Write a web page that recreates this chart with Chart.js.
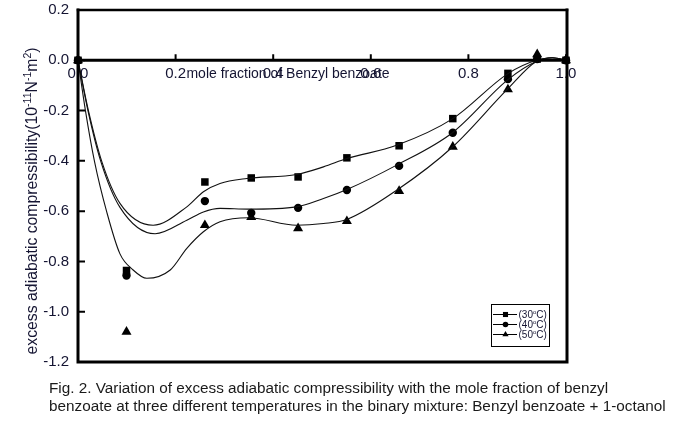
<!DOCTYPE html>
<html><head><meta charset="utf-8">
<script src="https://cdn.jsdelivr.net/npm/chart.js@4/dist/chart.umd.min.js"></script>
<style>
html,body{margin:0;padding:0;background:#fff;}
#wrap{position:relative;width:689px;height:430px;overflow:hidden;}
#c{position:absolute;left:0;top:0;}
#cap{position:absolute;left:49px;top:379px;font:15.3px "Liberation Sans",Arial,sans-serif;color:#1a1a1a;line-height:18px;white-space:nowrap;}
</style></head><body>
<div id="wrap"><canvas id="c" width="689" height="430"></canvas>
<div id="cap">Fig. 2. Variation of excess adiabatic compressibility with the mole fraction of benzyl<br>benzoate at three different temperatures in the binary mixture: Benzyl benzoate + 1-octanol</div></div>
<script>
// measured points (mole fraction of benzyl benzoate)
const moleFraction = [0, 0.0994, 0.260, 0.355, 0.451, 0.551, 0.658, 0.768, 0.881, 0.941, 1.0];
const kappa30 = [0, -0.836, -0.484, -0.468, -0.464, -0.388, -0.340, -0.232, -0.052, 0.005, 0];
const kappa40 = [0, -0.856, -0.560, -0.607, -0.587, -0.516, -0.420, -0.288, -0.075, 0.005, 0];
const kappa50 = [0, -1.080, -0.656, -0.624, -0.668, -0.640, -0.520, -0.344, -0.116, 0.024, 0];

// fitted curves
const fit30X = [0, 0.021, 0.049, 0.086, 0.154, 0.223, 0.257, 0.291, 0.346, 0.448, 0.503, 0.551, 0.653, 0.768, 0.881, 0.939, 0.972, 1.0];
const fit30Y = [0, -0.197, -0.404, -0.569, -0.656, -0.583, -0.523, -0.490, -0.470, -0.454, -0.424, -0.391, -0.338, -0.232, -0.053, 0.0, 0.010, 0];
const fit40X = [0, 0.020, 0.047, 0.086, 0.158, 0.223, 0.257, 0.291, 0.349, 0.448, 0.503, 0.551, 0.653, 0.768, 0.881, 0.939, 0.972, 1.0];
const fit40Y = [0, -0.197, -0.404, -0.585, -0.690, -0.636, -0.603, -0.589, -0.592, -0.583, -0.550, -0.514, -0.417, -0.287, -0.077, -0.005, 0.010, 0];
const fit50X = [0, 0.015, 0.034, 0.059, 0.086, 0.113, 0.141, 0.189, 0.223, 0.257, 0.291, 0.350, 0.448, 0.503, 0.551, 0.653, 0.768, 0.881, 0.939, 0.972, 1.0];
const fit50Y = [0, -0.197, -0.404, -0.604, -0.770, -0.834, -0.867, -0.834, -0.748, -0.682, -0.642, -0.626, -0.656, -0.649, -0.633, -0.517, -0.344, -0.113, -0.005, 0.010, 0];

const xTickValues = [0, 0.2, 0.4, 0.6, 0.8, 1.0];
const yTickValues = [0.2, 0, -0.2, -0.4, -0.6, -0.8, -1.0, -1.2];
const seriesLabels = ['30', '40', '50'];
const seriesMarkers = ['rect', 'circle', 'triangle'];
const xTitle = 'mole fraction of Benzyl benzoate';
const yTitleParts = [['excess adiabatic compressibility(10', 0], ['-11', 1], ['N', 0], ['-1', 1], ['m', 0], ['2', 1], [')', 0]];

const FONT = '"Liberation Sans", Arial, sans-serif';
const INK = '#000';
const LABEL = '#141432';

function pts(xs, ys) { return xs.map((x, i) => ({ x: x, y: ys[i] })); }

const markerStyle = [
  { pointStyle: 'rect', pointRadius: 5.3 },
  { pointStyle: 'circle', pointRadius: 4.2 },
  { pointStyle: 'triangle', pointRadius: 5.8 }
];

const datasets = [
  { label: 'fit30', data: pts(fit30X, fit30Y) },
  { label: 'fit40', data: pts(fit40X, fit40Y) },
  { label: 'fit50', data: pts(fit50X, fit50Y) }
].map(d => Object.assign(d, {
  borderColor: '#111', borderWidth: 1.1, pointRadius: 0, fill: false,
  cubicInterpolationMode: 'monotone', showLine: true
}));

[kappa30, kappa40, kappa50].forEach((vals, i) => {
  datasets.push({
    label: '(' + seriesLabels[i] + ' C)', data: pts(moleFraction, vals), showLine: false,
    pointStyle: markerStyle[i].pointStyle, pointRadius: markerStyle[i].pointRadius,
    pointBackgroundColor: INK, pointBorderColor: INK, pointBorderWidth: 0, clip: false
  });
});

const framePlugin = {
  id: 'frame',
  afterDatasetsDraw(chart) {
    const { ctx, chartArea: a, scales: { x, y } } = chart;
    const y0 = y.getPixelForValue(0);
    ctx.save();
    ctx.strokeStyle = INK;
    ctx.lineCap = 'square';
    ctx.lineWidth = 3;
    ctx.beginPath();
    ctx.moveTo(a.left, a.top); ctx.lineTo(a.left, a.bottom);
    ctx.moveTo(a.right + 1, a.top); ctx.lineTo(a.right + 1, a.bottom);
    ctx.moveTo(a.left, a.bottom); ctx.lineTo(a.right + 1, a.bottom);
    ctx.moveTo(a.left, y0); ctx.lineTo(a.right + 1, y0);
    ctx.stroke();
    ctx.lineWidth = 2.5;
    ctx.beginPath();
    ctx.moveTo(a.left, a.top); ctx.lineTo(a.right + 1, a.top);
    ctx.stroke();
    ctx.lineCap = 'butt';
    ctx.lineWidth = 2;
    ctx.beginPath();
    yTickValues.forEach(v => {
      const py = y.getPixelForValue(v);
      ctx.moveTo(a.left, py); ctx.lineTo(a.left + 7, py);
    });
    xTickValues.forEach(v => {
      const px = x.getPixelForValue(v);
      ctx.moveTo(px, y0); ctx.lineTo(px, y0 - 6);
    });
    ctx.stroke();
    ctx.restore();
  },
  afterDraw(chart) {
    const { ctx, scales: { y } } = chart;
    const y0 = y.getPixelForValue(0);
    ctx.save();
    ctx.fillStyle = LABEL;
    ctx.font = '14px ' + FONT;
    ctx.textAlign = 'center';
    ctx.textBaseline = 'middle';
    ctx.fillText(xTitle, 288, y0 + 14);
    ctx.translate(37, 201);
    ctx.rotate(-Math.PI / 2);
    const big = '15.8px ', small = '10.5px ';
    let total = 0;
    yTitleParts.forEach(([t, sup]) => { ctx.font = (sup ? small : big) + FONT; total += ctx.measureText(t).width; });
    let cx = -total / 2;
    ctx.textAlign = 'left';
    ctx.textBaseline = 'alphabetic';
    yTitleParts.forEach(([t, sup]) => {
      ctx.font = (sup ? small : big) + FONT;
      ctx.fillText(t, cx, sup ? -6.5 : 0);
      cx += ctx.measureText(t).width;
    });
    ctx.restore();

    ctx.save();
    ctx.strokeStyle = INK;
    ctx.lineWidth = 1;
    ctx.strokeRect(491.5, 304.5, 58, 42);
    seriesLabels.forEach((lab, i) => {
      const ly = 314 + i * 10;
      ctx.beginPath();
      ctx.moveTo(493, ly + 0.5); ctx.lineTo(517, ly + 0.5);
      ctx.lineWidth = 1; ctx.stroke();
      ctx.fillStyle = INK;
      Chart.helpers.drawPoint(ctx, { pointStyle: seriesMarkers[i], radius: i === 1 ? 2.8 : 3.6, rotation: 0, borderWidth: 0 }, 505.5, ly + 0.5);
      ctx.fillStyle = LABEL;
      ctx.textBaseline = 'middle';
      ctx.textAlign = 'left';
      let tx = 518.5;
      ctx.font = '10px ' + FONT;
      ctx.fillText('(' + lab, tx, ly + 1); tx += ctx.measureText('(' + lab).width;
      ctx.font = '6px ' + FONT;
      ctx.fillText('o', tx, ly - 2); tx += ctx.measureText('o').width;
      ctx.font = '10px ' + FONT;
      ctx.fillText('C)', tx, ly + 1);
    });
    ctx.restore();
  }
};

new Chart(document.getElementById('c'), {
  type: 'scatter',
  data: { datasets: datasets },
  options: {
    responsive: false,
    animation: false,
    layout: { padding: { left: 0, right: 123, top: 10, bottom: 68 } },
    plugins: { legend: { display: false }, tooltip: { enabled: false } },
    scales: {
      x: {
        type: 'linear', min: 0, max: 1, position: { y: 0 },
        grid: { display: false, drawTicks: false }, border: { display: false },
        afterBuildTicks: s => { s.ticks = xTickValues.map(v => ({ value: v })); },
        afterFit: s => { s.height = 0; s.paddingLeft = 0; s.paddingRight = 0; },
        ticks: { padding: 5, color: LABEL, font: { family: FONT, size: 15 }, maxRotation: 0, autoSkip: false,
          callback: v => Number(v).toFixed(1) }
      },
      y: {
        type: 'linear', min: -1.2, max: 0.2, position: 'left',
        grid: { display: false, drawTicks: false }, border: { display: false },
        afterBuildTicks: s => { s.ticks = yTickValues.map(v => ({ value: v })); },
        afterFit: s => { s.width = 78; s.paddingTop = 0; s.paddingBottom = 0; },
        ticks: { padding: 9, color: LABEL, font: { family: FONT, size: 15 }, autoSkip: false,
          callback: v => Number(v).toFixed(1) }
      }
    }
  },
  plugins: [framePlugin]
});
</script>
</body></html>
